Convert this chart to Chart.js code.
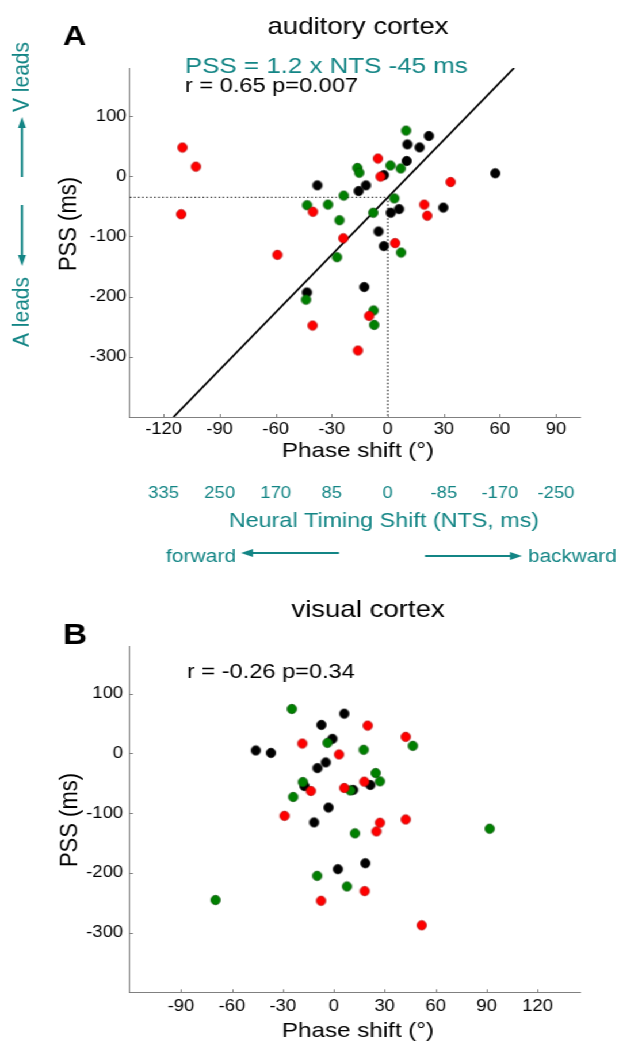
<!DOCTYPE html>
<html><head><meta charset="utf-8">
<script src="https://cdn.jsdelivr.net/npm/chart.js@4"></script>
<style>
html,body{margin:0;padding:0;background:#fff;overflow:hidden;width:619px;height:1042px}
#wrap{position:absolute;left:0;top:0;width:538px;height:1042px;transform:scaleX(1.150558);transform-origin:0 0}
canvas{position:absolute;left:0;display:block}
</style></head><body>
<div id="wrap">
<canvas id="cA" width="538" height="600" style="top:0;width:538px;height:600px"></canvas>
<canvas id="cB" width="538" height="442" style="top:600px;width:538px;height:442px"></canvas>
</div>
<script>
// ---------- data ----------
const phaseTicksA = [-120, -90, -60, -30, 0, 30, 60, 90];
const ntsTickLabels = ['335', '250', '170', '85', '0', '-85', '-170', '-250'];
const phaseTicksB = [-90, -60, -30, 0, 30, 60, 90, 120];
const pssTicks = [100, 0, -100, -200, -300];
const phaseRangeA = [-138, 103.4];
const phaseRangeB = [-120, 145];
const pssRange = [-400, 180];

// panel A (auditory cortex)
const aRedX = [-109.9, -102.7, -110.6, -40.1, -23.8, -5.3, -3.9, 33.6, 19.5, 21.1, 3.9, -59.1, -10, -40.3, -16];
const aRedY = [47.8, 16, -63, -59, -103, 29.5, -0.5, -9.5, -47, -65.5, -111, -130.5, -232, -248, -289.5];
const aBlackX = [-37.7, -15.6, -11.7, 22, 10.5, 17, 10.1, -2.1, 57.5, 29.7, 6, 1.6, -5, -2.1, -12.6, -43.3];
const aBlackY = [-15, -24.5, -15, 67, 53, 48, 25.5, 2, 5, -52, -54.5, -60.5, -91.7, -116, -184, -193];
const aGreenX = [-43.2, -32, -23.6, -25.9, -16.3, -15.3, 9.8, 1.4, 6.9, 3.5, -7.8, 7.1, -27.2, -43.8, -7.6, -7.3];
const aGreenY = [-48, -47, -32, -73, 14, 6, 76, 18, 13, -36.7, -60.5, -126.7, -134.5, -205, -223, -247];
const fitPhase = [-114.7, 67.6];
const fitPss = [-400, 180];
const crossPhase = 0;
const crossPss = -35;

// panel B (visual cortex)
const bRedX = [-18.5, 3.1, -13.5, 6.2, -29, 20, 42.4, 18, 42.4, 27.2, 25.1, 18.2, -7.5, 51.8];
const bRedY = [16.7, -1.7, -62.8, -57.8, -104.5, 46.7, 27.8, -47.2, -110.5, -116, -130.5, -230.5, -246.7, -287.8];
const bBlackX = [6.2, -7.3, -0.8, -45.9, -37, -4.7, -9.6, -17.3, 11.4, -3.1, -11.6, 21.5, 18.6, 2.4];
const bBlackY = [66.7, 47.8, 24.5, 5, 1, -15, -24.5, -54.5, -61, -90.5, -115.5, -52.8, -183.8, -193.8];
const bGreenX = [-24.7, -3.7, -18.2, -23.9, 9.8, 12.5, 46.6, 17.6, 24.7, 27.2, 91.8, -9.8, 7.8, -69.6];
const bGreenY = [74.5, 17.8, -47.8, -72.8, -62, -133.8, 12.8, 6.2, -32.8, -46.7, -126, -205, -222.8, -245.5];

// ---------- styling ----------
const S = 619 / 538;              // horizontal stretch of the figure
const FONT = '"Liberation Sans", Arial, Helvetica, sans-serif';
const TEAL = '#138585';
const AXIS = '#808080';

function makeDot(fill, stroke) {
  const r = 4.7;
  const c = document.createElement('canvas');
  const w = Math.ceil(2 * r / S) + 2, h = Math.ceil(2 * r) + 2;
  c.width = w; c.height = h;
  const g = c.getContext('2d');
  g.beginPath();
  g.ellipse(w / 2, h / 2, r / S, r, 0, 0, Math.PI * 2);
  g.fillStyle = fill; g.fill();
  g.lineWidth = 0.7; g.strokeStyle = stroke; g.stroke();
  return c;
}
const dotRed = makeDot('#ff0000', '#b00000');
const dotGreen = makeDot('#008000', '#005000');
const dotBlack = makeDot('#000000', '#000000');

const pts = (xs, ys) => xs.map((x, i) => ({x: x, y: ys[i]}));
function scatterSet(xs, ys, dot) {
  return {data: pts(xs, ys), pointStyle: dot, pointRadius: 4.7, pointHoverRadius: 4.7, showLine: false, order: 1};
}

function txt(ctx, s, x, y, size, color, align, base, bold, rot) {
  ctx.save();
  ctx.font = (bold ? 'bold ' : '') + size + 'px ' + FONT;
  ctx.fillStyle = color;
  ctx.textAlign = align || 'left';
  ctx.textBaseline = base || 'alphabetic';
  ctx.translate(x / S, y);
  if (rot) ctx.rotate(rot);
  ctx.fillText(s, 0, 0);
  ctx.restore();
}
function arrow(ctx, x1, y1, x2, y2, color, lw, hl, hw) {
  const dx = x2 - x1, dy = y2 - y1, L = Math.hypot(dx, dy), ux = dx / L, uy = dy / L;
  const bx = x2 - ux * hl, by = y2 - uy * hl;
  ctx.save();
  ctx.strokeStyle = color; ctx.fillStyle = color; ctx.lineWidth = lw;
  ctx.beginPath(); ctx.moveTo(x1 / S, y1); ctx.lineTo((bx + ux) / S, by + uy); ctx.stroke();
  ctx.beginPath();
  ctx.moveTo(x2 / S, y2);
  ctx.lineTo((bx - uy * hw) / S, by + ux * hw);
  ctx.lineTo((bx + uy * hw) / S, by - ux * hw);
  ctx.closePath(); ctx.fill();
  ctx.restore();
}

const innerTicks = {
  id: 'innerTicks',
  afterDraw(chart) {
    const ctx = chart.ctx, xs = chart.scales.x, ys = chart.scales.y, a = chart.chartArea;
    ctx.save();
    ctx.strokeStyle = AXIS; ctx.lineWidth = 1;
    ctx.beginPath();
    xs.ticks.forEach(t => { const p = Math.round(xs.getPixelForValue(t.value)) + 0.5; ctx.moveTo(p, a.bottom); ctx.lineTo(p, a.bottom - 3); });
    ys.ticks.forEach(t => { const p = Math.round(ys.getPixelForValue(t.value)) + 0.5; ctx.moveTo(a.left, p); ctx.lineTo(a.left + 3 / S, p); });
    ctx.stroke();
    ctx.restore();
  }
};

const annotA = {
  id: 'annotA',
  afterDraw(chart) {
    const ctx = chart.ctx, xs = chart.scales.x;
    txt(ctx, 'A', 63, 45, 28, '#000', 'left', 'alphabetic', true);
    txt(ctx, 'auditory cortex', 358, 34, 24, '#000', 'center');
    txt(ctx, 'PSS = 1.2 x NTS -45 ms', 185, 73, 22.5, TEAL, 'left');
    txt(ctx, 'r = 0.65 p=0.007', 185, 92, 20.5, '#000', 'left');
    txt(ctx, 'PSS (ms)', 69, 224, 22, '#000', 'center', 'middle', false, -Math.PI / 2);
    txt(ctx, 'Phase shift (°)', 358, 457, 21, '#000', 'center');
    // neural timing shift axis (labels aligned to the phase ticks)
    phaseTicksA.forEach((v, i) => {
      txt(ctx, ntsTickLabels[i], xs.getPixelForValue(v) * S, 494, 16, TEAL, 'center', 'middle');
    });
    txt(ctx, 'Neural Timing Shift (NTS, ms)', 384, 521, 20.3, TEAL, 'center', 'middle');
    txt(ctx, 'forward', 166, 557, 18.3, TEAL, 'left', 'middle');
    arrow(ctx, 339, 553, 241, 553, TEAL, 2, 12, 4);
    txt(ctx, 'backward', 528, 557, 18, TEAL, 'left', 'middle');
    arrow(ctx, 425, 556, 522, 556, TEAL, 2, 12, 4);
    // side labels
    txt(ctx, 'V leads', 22, 77, 21, TEAL, 'center', 'middle', false, -Math.PI / 2);
    arrow(ctx, 22, 177, 22, 117, TEAL, 2, 11, 4);
    arrow(ctx, 22, 205, 22, 266, TEAL, 2, 11, 4);
    txt(ctx, 'A leads', 22, 312, 21, TEAL, 'center', 'middle', false, -Math.PI / 2);
  }
};
const annotB = {
  id: 'annotB',
  afterDraw(chart) {
    const ctx = chart.ctx;
    txt(ctx, 'B', 63, 44, 29, '#000', 'left', 'alphabetic', true);
    txt(ctx, 'visual cortex', 368, 17, 24, '#000', 'center');
    txt(ctx, 'r = -0.26 p=0.34', 187, 78, 20.5, '#000', 'left');
    txt(ctx, 'PSS (ms)', 70, 220, 22, '#000', 'center', 'middle', false, -Math.PI / 2);
    txt(ctx, 'Phase shift (°)', 358, 437, 21, '#000', 'center');
  }
};

function scales(xTicks, xRange, xPad, yPad) {
  const tickFont = {family: FONT, size: 16};
  return {
    x: {
      type: 'linear', min: xRange[0], max: xRange[1],
      afterBuildTicks: s => { s.ticks = xTicks.map(v => ({value: v})); },
      afterFit: s => { s.height = 30; },
      ticks: {font: tickFont, color: '#000', padding: xPad, maxRotation: 0, autoSkip: false, callback: v => String(v)},
      grid: {display: true, drawOnChartArea: false, drawTicks: false},
      border: {display: true, color: AXIS, width: 1}
    },
    y: {
      type: 'linear', min: pssRange[0], max: pssRange[1],
      afterBuildTicks: s => { s.ticks = pssTicks.map(v => ({value: v})); },
      afterFit: s => { s.width = 130 / S; },
      ticks: {font: tickFont, color: '#000', padding: yPad, autoSkip: false, callback: v => String(v)},
      grid: {display: true, drawOnChartArea: false, drawTicks: false},
      border: {display: true, color: AXIS, width: 1}
    }
  };
}
const baseOpts = {
  responsive: false, animation: false, events: [],
  plugins: {legend: {display: false}, tooltip: {enabled: false}, title: {display: false}}
};

new Chart(document.getElementById('cA'), {
  type: 'scatter',
  data: {datasets: [
    scatterSet(aRedX, aRedY, dotRed),
    scatterSet(aGreenX, aGreenY, dotGreen),
    scatterSet(aBlackX, aBlackY, dotBlack),
    {data: pts(fitPhase, fitPss), showLine: true, pointRadius: 0, borderColor: '#000', borderWidth: 1.8, order: 5},
    {data: [{x: phaseRangeA[0], y: crossPss}, {x: crossPhase, y: crossPss}], showLine: true, pointRadius: 0, borderColor: '#333', borderWidth: 1.3, borderDash: [1.3, 2.2], order: 6},
    {data: [{x: crossPhase, y: crossPss}, {x: crossPhase, y: pssRange[0]}], showLine: true, pointRadius: 0, borderColor: '#333', borderWidth: 1.3, borderDash: [1.3, 2.2], order: 6}
  ]},
  options: Object.assign({}, baseOpts, {
    layout: {padding: {left: 0, right: 538 - 581 / S, top: 68, bottom: 600 - 417 - 30}},
    scales: scales(phaseTicksA, phaseRangeA, 3, 3)
  }),
  plugins: [innerTicks, annotA]
});

new Chart(document.getElementById('cB'), {
  type: 'scatter',
  data: {datasets: [
    scatterSet(bRedX, bRedY, dotRed),
    scatterSet(bGreenX, bGreenY, dotGreen),
    scatterSet(bBlackX, bBlackY, dotBlack)
  ]},
  options: Object.assign({}, baseOpts, {
    layout: {padding: {left: 0, right: 538 - 580 / S, top: 46, bottom: 442 - 392.3 - 30}},
    scales: scales(phaseTicksB, phaseRangeB, 5, 6)
  }),
  plugins: [innerTicks, annotB]
});
</script>
</body></html>
